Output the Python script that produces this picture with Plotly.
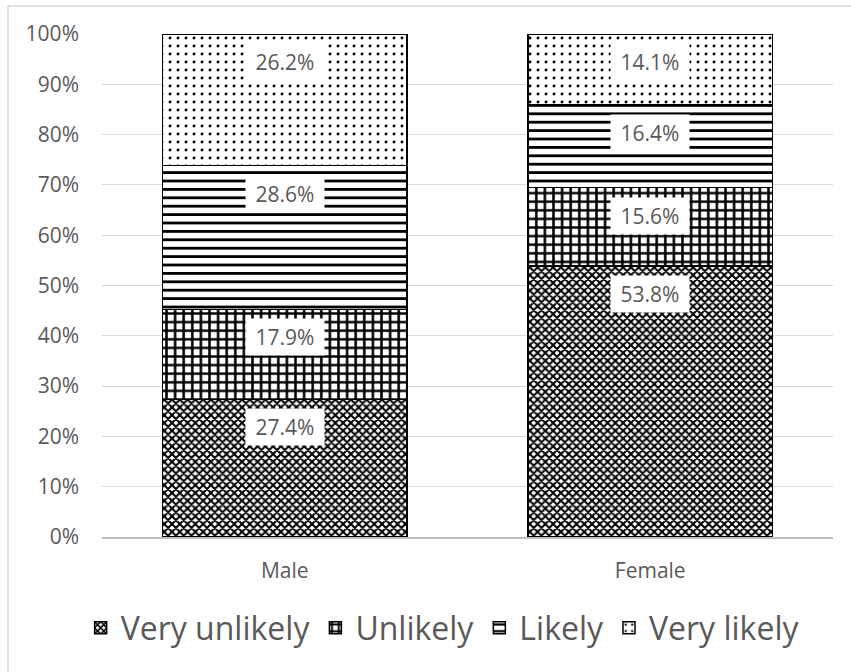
import plotly.graph_objects as go

# Survey responses by gender (percent of respondents)
genders = ["Male", "Female"]
very_unlikely = [27.4, 53.8]
unlikely = [17.9, 15.6]
likely = [28.6, 16.4]
very_likely = [26.2, 14.1]

series_names = ["Very unlikely", "Unlikely", "Likely", "Very likely"]
series_values = [very_unlikely, unlikely, likely, very_likely]

# Monochrome fill patterns, one per response level
patterns = [
    dict(shape="x", size=5.5, solidity=0.6),
    dict(shape="+", size=8.6, solidity=0.5),
    dict(shape="-", size=8.4, solidity=0.33),
    dict(shape=".", size=8, solidity=0.1),
]

GRAY = "#595959"
FONT = "Open Sans"

fig = go.Figure()
for name, vals, pat in zip(series_names, series_values, patterns):
    fig.add_trace(go.Bar(
        x=genders,
        y=vals,
        name=name,
        width=0.67,
        marker=dict(
            color="white",
            line=dict(color="black", width=1.5),
            pattern=dict(fgcolor="black", bgcolor="white", fgopacity=1,
                         fillmode="overlay", **pat),
        ),
        hoverinfo="skip",
    ))

# Value labels in white boxes just below the top of each stacked segment
for gi, g in enumerate(genders):
    total = sum(v[gi] for v in series_values)
    top = 0.0
    for vals in series_values:
        top += vals[gi] / total * 100
        fig.add_annotation(
            x=g, y=top, xref="x", yref="y",
            text=f" {vals[gi]:.1f}% ",
            showarrow=False,
            yanchor="middle",
            yshift=-28,
            bgcolor="white",
            borderpad=4,
            font=dict(family=FONT, size=21, color=GRAY),
        )

# Outer chart-area border
fig.add_shape(
    type="rect", xref="paper", yref="paper",
    x0=-0.1286, x1=1.06, y0=-0.32, y1=1.0557,
    line=dict(color="#d9d9d9", width=1.5),
    fillcolor="rgba(0,0,0,0)",
    layer="below",
)

fig.update_layout(
    barmode="stack",
    barnorm="percent",
    width=851,
    height=672,
    margin=dict(l=102, r=18, t=34, b=135),
    paper_bgcolor="white",
    plot_bgcolor="white",
    font=dict(family=FONT, color=GRAY),
    showlegend=True,
    legend=dict(
        orientation="h",
        x=0.466, xanchor="center",
        y=-0.181, yanchor="middle",
        font=dict(family=FONT, size=32, color=GRAY),
        traceorder="normal",
        itemclick=False,
    ),
    xaxis=dict(
        type="category",
        showgrid=False,
        showline=True,
        linecolor="#bfbfbf",
        linewidth=1.5,
        ticks="",
        tickfont=dict(family=FONT, size=21, color=GRAY),
        ticklabelstandoff=14,
    ),
    yaxis=dict(
        range=[0, 100],
        dtick=10,
        ticksuffix="%",
        showgrid=True,
        gridcolor="#d9d9d9",
        gridwidth=1,
        zeroline=False,
        showline=False,
        ticks="",
        tickfont=dict(family=FONT, size=21, color=GRAY),
        ticklabelstandoff=22,
    ),
)

fig.write_html("out.html")
